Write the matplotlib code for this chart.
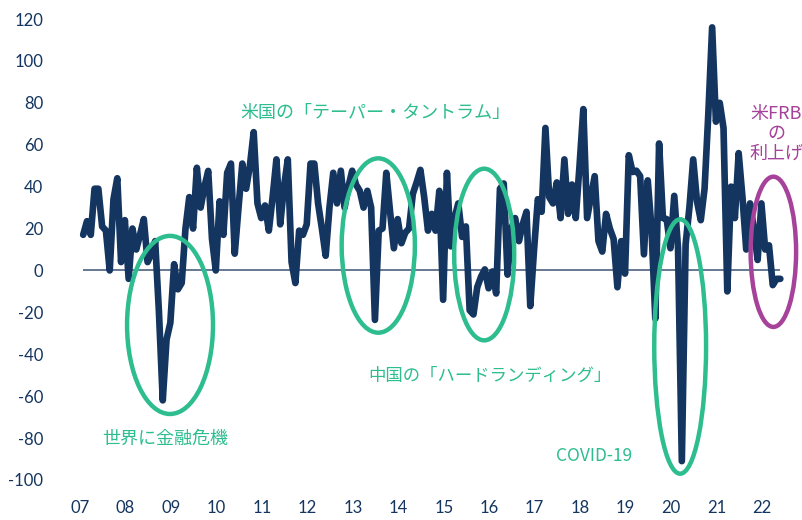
import numpy as np
import matplotlib
matplotlib.use('Agg')
import matplotlib.pyplot as plt
from matplotlib.patches import Ellipse

plt.rcParams['font.family'] = ['Lato', 'Noto Sans CJK JP', 'DejaVu Sans']
plt.rcParams['axes.unicode_minus'] = False

# 月次データ (2007年初めから2022年半ばまで)
values = [
    17, 23.5, 17, 39, 39, 21, 19, 0, 34, 44, 4, 24,
    -4, 20, 10, 17, 24.5, 4, 8, 14, -20, -62, -33, -25,
    3, -9, -6, 20, 35, 20, 49, 30, 40, 47.5, 15, 0,
    33, 17, 46.6, 51, 8, 30, 51, 39, 50, 66, 32, 25,
    31, 19, 35, 53, 22, 40, 53, 4, -6, 19, 17, 22,
    51, 51, 32, 20, 7, 30, 46.6, 32, 47.6, 30, 40, 47.6,
    41, 38, 30, 38, 30, -23.6, 19, 20, 46.6, 28, 10.6, 24.5,
    13, 18, 20, 36.5, 42, 48, 35, 19, 27, 19, 38, -14,
    46.6, 11.5, 25, 32, 16, 21, -19, -21, -8, -3, 0.5, -8.5,
    -0.5, -11, 39, 41.5, -2, 20, 25, 14, 22, 28, -17, 10,
    34, 28, 68, 35, 32, 42, 25, 53, 27, 41, 25, 50,
    77, 25, 35, 45, 14, 9, 27, 20, 15, -8, 14, -1.5,
    55, 47, 47.6, 45, 7.7, 43, 20, -23, 60.6, 25, 24.5, 10.6,
    35.6, 10.6, -91, 12.5, 30, 53, 33, 24, 39, 75, 116, 71,
    80, 68, -10, 40, 25, 56, 35, 10, 32, 20, 5, 32,
    10, 12, -7, -4, -4,
]
x = 2007.07 + np.arange(len(values)) / 12

years = np.arange(2007, 2023)
year_labels = [f'{y % 100:02d}' for y in years]
y_ticks = np.arange(-100, 121, 20)

navy = '#13355f'
green = '#2dbd8f'
purple = '#a6429a'

fig = plt.figure(figsize=(8.03, 5.2), dpi=100)
ax = fig.add_axes([60 / 803, 30 / 520, 740 / 803, 480 / 520])

ax.hlines(0, x[0], x[-1], color='#4d6180', lw=1.2, zorder=1)
ax.plot(x, values, color=navy, lw=4.8, solid_joinstyle='round',
        solid_capstyle='round', zorder=3)

ax.set_xlim(2007 - 20 / 45.47, 2022 + 38 / 45.47)
ax.set_ylim(-100 - 10 / 2.095, 120 + 9 / 2.095)
ax.set_xticks(years)
ax.set_xticklabels(year_labels)
ax.set_yticks(y_ticks)
ax.tick_params(length=0, labelsize=12, colors=navy)
ax.tick_params(axis='x', pad=7)
ax.tick_params(axis='y', pad=12)
for s in ax.spines.values():
    s.set_visible(False)

# 楕円
ells = [
    (2008.98, -26, 1.89, 85, green),
    (2013.56, 11.9, 1.61, 83.2, green),
    (2015.89, 7.6, 1.32, 81.9, green),
    (2020.2, -36.3, 1.14, 121.4, green),
    (2022.25, 8.9, 1.0, 71.7, purple),
]
for cx, cy, w, h, c in ells:
    ax.add_patch(Ellipse((cx, cy), w, h, fill=False, ec=c, lw=3.2,
                         zorder=4, clip_on=False))

jp = ['Noto Sans CJK JP', 'DejaVu Sans']
ax.text(2013.49, 75.2, '米国の「テーパー・タントラム」', color=green,
        fontsize=13, ha='center', va='center', family=jp)
ax.text(2008.87, -80.4, '世界に金融危機', color=green,
        fontsize=13, ha='center', va='center', family=jp)
ax.text(2016.02, -50.4, '中国の「ハードランディング」', color=green,
        fontsize=12.5, ha='center', va='center', family=jp)
ax.text(2018.3, -88.5, 'COVID-19', color=green,
        fontsize=12.5, ha='center', va='center', family=jp)
ax.text(2022.31, 65.2, '米FRB\nの\n利上げ', color=purple,
        fontsize=13, ha='center', va='center', family=jp, linespacing=1.15)

fig.savefig('out.png', dpi=100)
